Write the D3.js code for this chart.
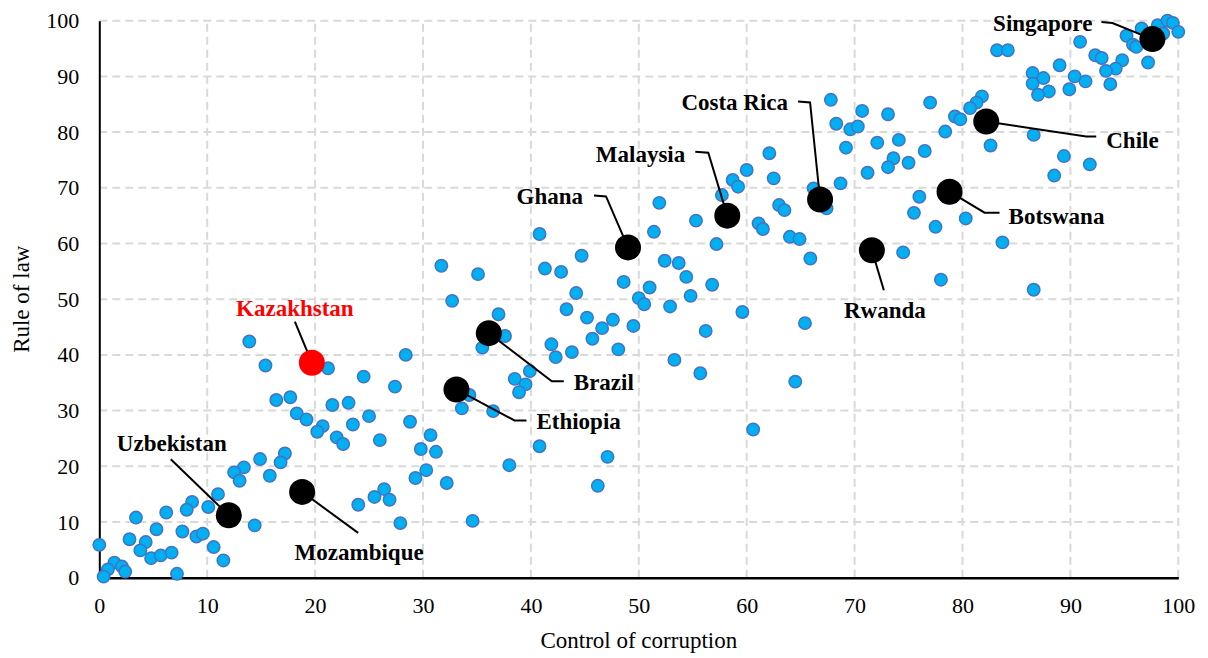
<!DOCTYPE html>
<html>
<head>
<meta charset="utf-8">
<script src="https://cdn.jsdelivr.net/npm/d3@7/dist/d3.min.js"></script>
<style>
  body { margin: 0; background: #fff; }
  text { font-family: "Liberation Serif", "Times New Roman", serif; }
</style>
</head>
<body>
<div id="chart"></div>
<script>
// control of corruption (x) and rule of law (y), percentile ranks
const controlOfCorruption = [
  16.4, 17.7, 18.3, 19.2, 14.9, 17.2, 16.8, 13.4, 12.5, 13.0, 15.8, 11.0, 8.6, 8.1, 10.1, 6.2,
  3.4, 5.3, 7.7, 9.0, 9.6, 10.6, 11.5, 14.4, 2.8, 4.3, 3.8, 4.8, 5.7, 6.7, 0.0, 1.4,
  0.8, 2.1, 2.4, 0.4, 7.2,
  13.9, 15.4, 21.2, 28.4, 24.5, 27.4, 20.7, 20.2, 21.6, 23.1, 23.5, 25.0, 22.0, 22.6, 26.0, 28.8,
  30.7, 29.8, 31.2, 30.3, 29.3, 24.0, 25.5, 26.4, 26.9, 27.9,
  32.2, 38.0, 40.8, 47.1, 46.2, 34.6,
  31.7, 35.1, 32.7, 37.0, 37.6, 35.5, 38.5, 39.9, 39.5, 38.9, 34.3, 33.6, 36.5, 41.3,
  51.9, 40.8, 51.4, 44.7, 52.4, 53.7, 42.8, 48.6, 51.0, 44.2, 50.0, 50.5, 52.9, 43.3, 45.2, 47.6,
  46.6, 49.5, 45.7, 41.9, 42.3, 43.8, 48.1, 53.3,
  67.8, 68.3, 69.6, 69.2, 68.7, 66.2, 67.4, 62.1, 62.5, 60.0, 58.7, 59.2, 57.7, 63.0, 63.5, 61.1,
  61.5, 64.0, 64.9, 65.9, 57.2, 55.3, 54.4, 56.8, 54.8, 59.6, 65.4, 56.2, 55.7, 64.5, 60.6,
  83.2, 84.2, 90.9, 95.2, 96.6, 98.1, 99.0, 99.5, 100.0, 95.8, 96.1, 98.6, 92.3, 92.9, 94.8, 94.2,
  93.3, 93.7, 97.2, 89.0, 90.4, 91.4, 89.9, 86.5, 87.5, 86.5, 88.0, 87.0, 81.8, 81.3, 80.7, 79.3,
  79.8, 82.6, 86.6, 89.4, 91.8, 88.5, 78.4, 77.0, 73.1, 70.7, 70.3, 72.1, 74.1, 76.5, 73.6, 73.1,
  75.0, 71.2, 76.0, 75.5, 77.5, 80.3, 83.7, 74.5, 78.0, 86.6
]
const ruleOfLaw = [
  31.9, 32.4, 29.5, 28.4, 21.3, 22.3, 20.7, 19.8, 18.9, 17.4, 18.3, 15.0, 13.6, 12.2, 12.7, 11.7,
  10.8, 8.7, 8.3, 7.4, 7.9, 5.5, 3.1, 9.4, 6.9, 6.4, 4.9, 3.5, 4.0, 4.5, 5.9, 2.7,
  1.5, 2.0, 1.1, 0.2, 0.7,
  42.4, 38.1, 37.6, 40.0, 36.1, 34.3, 27.2, 26.2, 31.0, 31.4, 27.5, 29.0, 25.2, 24.0, 24.7, 28.0,
  25.6, 23.1, 22.6, 19.3, 17.9, 13.1, 14.5, 15.9, 14.0, 9.8,
  17.0, 20.2, 23.6, 21.7, 16.5, 10.2,
  56.0, 54.5, 49.7, 47.3, 43.4, 41.3, 35.7, 37.1, 34.7, 33.3, 32.8, 30.4, 29.9, 55.5,
  67.3, 61.7, 62.1, 57.8, 56.9, 56.5, 54.9, 53.1, 52.1, 51.1, 50.2, 49.1, 48.7, 48.2, 46.7, 46.3,
  44.8, 45.2, 42.9, 41.9, 39.6, 40.5, 41.0, 39.1,
  85.8, 81.5, 80.5, 77.2, 70.8, 69.9, 66.3, 76.2, 71.7, 73.2, 71.4, 70.2, 68.7, 66.9, 66.0, 63.6,
  62.6, 61.2, 60.8, 57.3, 59.9, 64.1, 54.0, 52.6, 50.6, 47.7, 45.7, 44.3, 36.7, 35.2, 26.6,
  94.7, 94.7, 96.2, 97.3, 98.6, 99.2, 100.0, 99.6, 98.0, 95.7, 95.3, 97.7, 93.8, 93.3, 92.9, 91.4,
  91.0, 88.6, 92.5, 92.0, 90.0, 89.1, 87.7, 90.6, 89.7, 88.7, 87.3, 86.7, 86.4, 85.3, 84.3, 82.8,
  82.3, 77.6, 79.5, 75.7, 74.2, 72.2, 80.1, 85.3, 83.2, 83.8, 81.0, 78.1, 78.6, 76.6, 75.3, 73.7,
  74.5, 72.7, 68.4, 65.5, 63.0, 64.5, 60.2, 58.4, 53.5, 51.7
]

const highlightNames = ['Uzbekistan', 'Mozambique', 'Kazakhstan', 'Ethiopia', 'Brazil', 'Ghana',
  'Malaysia', 'Costa Rica', 'Rwanda', 'Botswana', 'Chile', 'Singapore']
const highlightCC = [12.0, 18.8, 19.7, 33.1, 36.1, 49.0, 58.2, 66.8, 71.6, 78.8, 82.2, 97.6]
const highlightRL = [11.2, 15.4, 38.6, 33.8, 43.9, 59.3, 65.0, 67.9, 58.8, 69.3, 81.9, 96.7]

const xTicks = [0, 10, 20, 30, 40, 50, 60, 70, 80, 90, 100]
const yTicks = [0, 10, 20, 30, 40, 50, 60, 70, 80, 90, 100]

// label placement, pixel offsets from the marker centre
const labelLayout = {
  'Uzbekistan': {leader: [[-58, -56]], text: [-57, -64], anchor: 'middle'},
  'Mozambique': {leader: [[56, 41]], text: [57, 68], anchor: 'middle'},
  'Kazakhstan': {leader: [[-17, -41]], text: [-17, -47], anchor: 'middle', color: '#ff0000'},
  'Ethiopia': {leader: [[58, 31], [70, 31]], text: [80, 40], anchor: 'start'},
  'Brazil': {leader: [[63, 48], [75, 48]], text: [85, 57], anchor: 'start'},
  'Ghana': {leader: [[-22, -51], [-34, -52]], text: [-45, -43], anchor: 'end'},
  'Malaysia': {leader: [[-19, -63], [-32, -64]], text: [-42, -54], anchor: 'end'},
  'Costa Rica': {leader: [[-10, -97], [-22, -98]], text: [-32, -89], anchor: 'end'},
  'Rwanda': {leader: [[12, 40]], text: [13, 68], anchor: 'middle'},
  'Botswana': {leader: [[35, 21], [50, 21]], text: [59, 32], anchor: 'start'},
  'Chile': {leader: [[100, 15], [110, 15]], text: [120, 26], anchor: 'start'},
  'Singapore': {leader: [[-40, -16], [-51, -17]], text: [-60, -8], anchor: 'end'}
}

const width = 1208
const height = 658
const margin = {top: 20.7, right: 29.7, bottom: 80.3, left: 99.3}

const svg = d3.select('#chart')
  .append('svg')
  .attr('width', width)
  .attr('height', height)

const x = d3.scaleLinear().domain([0, 100]).range([margin.left, width - margin.right])
const y = d3.scaleLinear().domain([0, 100]).range([height - margin.bottom, margin.top])

// dashed grid
const grid = svg.append('g')
  .attr('stroke', '#d9d9d9')
  .attr('stroke-width', 2)
  .attr('stroke-dasharray', '8,5')

grid.selectAll('.gx')
  .data(xTicks.filter(d => d > 0))
  .join('line')
  .attr('x1', d => x(d)).attr('x2', d => x(d))
  .attr('y1', y(0)).attr('y2', y(100))

grid.selectAll('.gy')
  .data(yTicks.filter(d => d > 0))
  .join('line')
  .attr('x1', x(0)).attr('x2', x(100))
  .attr('y1', d => y(d)).attr('y2', d => y(d))

// axes
const xAxis = svg.append('g')
  .attr('transform', `translate(0,${y(0)})`)
  .call(d3.axisBottom(x).tickValues(xTicks).tickSize(0).tickPadding(20))
xAxis.select('.domain').attr('stroke', '#000').attr('stroke-width', 2.5)
xAxis.selectAll('text').attr('font-size', 22).attr('fill', '#000')
  .attr('font-family', '"Liberation Serif", serif')

const yAxis = svg.append('g')
  .attr('transform', `translate(${x(0)},0)`)
  .call(d3.axisLeft(y).tickValues(yTicks).tickSize(0).tickPadding(20))
yAxis.select('.domain').attr('stroke', '#000').attr('stroke-width', 2)
yAxis.selectAll('text').attr('font-size', 22).attr('fill', '#000')
  .attr('font-family', '"Liberation Serif", serif')

svg.append('text')
  .attr('x', (x(0) + x(100)) / 2)
  .attr('y', 648)
  .attr('text-anchor', 'middle')
  .attr('font-size', 23)
  .text('Control of corruption')

svg.append('text')
  .attr('transform', `translate(29,${(y(0) + y(100)) / 2}) rotate(-90)`)
  .attr('text-anchor', 'middle')
  .attr('font-size', 23)
  .text('Rule of law')

// all countries
svg.append('g')
  .selectAll('circle')
  .data(controlOfCorruption.map((cc, i) => ({cc, rl: ruleOfLaw[i]})))
  .join('circle')
  .attr('cx', d => x(d.cc))
  .attr('cy', d => y(d.rl))
  .attr('r', 6.2)
  .attr('fill', '#00b0f0')
  .attr('stroke', '#4472c4')
  .attr('stroke-width', 1.5)

const highlights = highlightNames.map((name, i) => ({name, cc: highlightCC[i], rl: highlightRL[i]}))

// leader lines
svg.append('g')
  .selectAll('polyline')
  .data(highlights)
  .join('polyline')
  .attr('fill', 'none')
  .attr('stroke', '#000')
  .attr('stroke-width', 2)
  .attr('points', d => {
    const px = x(d.cc)
    const py = y(d.rl)
    return [[0, 0], ...labelLayout[d.name].leader].map(([dx, dy]) => `${px + dx},${py + dy}`).join(' ')
  })

svg.append('g')
  .selectAll('circle')
  .data(highlights)
  .join('circle')
  .attr('cx', d => x(d.cc))
  .attr('cy', d => y(d.rl))
  .attr('r', 13)
  .attr('fill', d => labelLayout[d.name].color || '#000')

svg.append('g')
  .selectAll('text')
  .data(highlights)
  .join('text')
  .attr('x', d => x(d.cc) + labelLayout[d.name].text[0])
  .attr('y', d => y(d.rl) + labelLayout[d.name].text[1])
  .attr('text-anchor', d => labelLayout[d.name].anchor)
  .attr('font-size', 23)
  .attr('font-weight', 'bold')
  .attr('fill', d => labelLayout[d.name].color || '#000')
  .text(d => d.name)
</script>
</body>
</html>
